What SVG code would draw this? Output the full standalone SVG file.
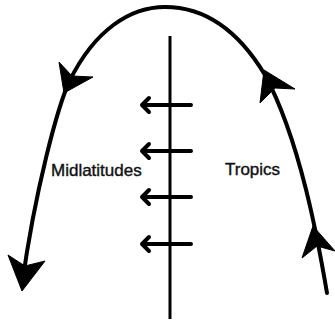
<svg xmlns="http://www.w3.org/2000/svg" width="335" height="324" viewBox="0 0 335 324">
<style>
.curve{fill:none;stroke:#000;stroke-width:4;stroke-linecap:round}
.head{fill:#000;stroke:#000;stroke-width:1;stroke-linejoin:round}
.axis{stroke:#000;stroke-width:3;fill:none}
.flow{fill:none;stroke:#000;stroke-width:4;stroke-linecap:round;stroke-linejoin:round}
.lbl{font-family:"Liberation Sans",Arial,sans-serif;font-size:17px;fill:#111;stroke:#111;stroke-width:0.4}
</style>
<rect width="335" height="324" fill="#fff"/>
<g id="connectors">
<path class="curve" d="M327,293 C318,240 300,140 265,75 C235,25 200,7 165,7 C130,7 95,30 70,80 C58,105 35,190 22,285"/>
<polygon class="head" points="64,93 59,62 72,76 93,77"/>
<polygon class="head" points="264,70 295,89 275,88 260,103"/>
<polygon class="head" points="313,226 335,251 317,246 302,258"/>
<polygon class="head" points="22,291 8,255 25,266 45,261"/>
</g>
<g id="axis">
<line class="axis" x1="170" y1="36" x2="170" y2="319"/>
</g>
<g id="flows">
<path class="flow" d="M191,105 H142 M149,98 L142,105 L149,112"/>
<path class="flow" d="M191,151 H142 M149,144 L142,151 L149,158"/>
<path class="flow" d="M191,197 H142 M149,190 L142,197 L149,204"/>
<path class="flow" d="M191,244 H142 M149,237 L142,244 L149,251"/>
</g>
<g id="midlatitudes"><text class="lbl" x="51" y="176">Midlatitudes</text></g>
<g id="tropics"><text class="lbl" x="225" y="175">Tropics</text></g>
</svg>
